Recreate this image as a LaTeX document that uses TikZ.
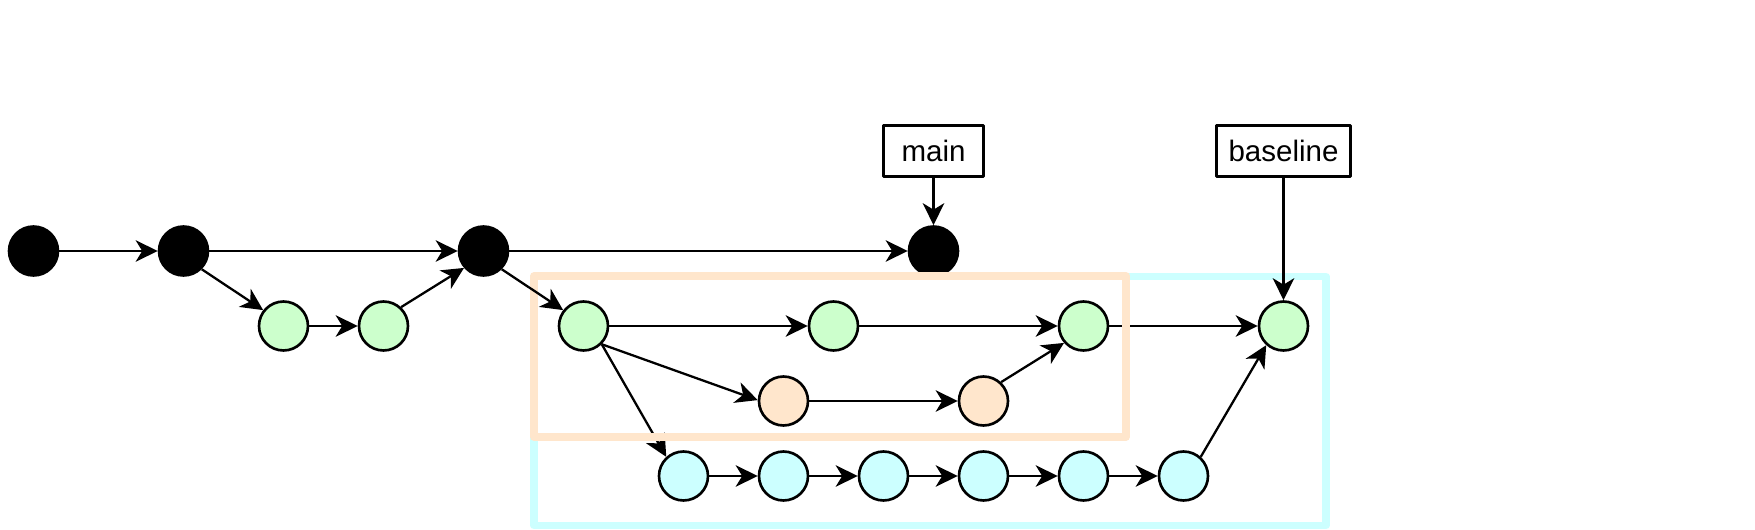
\documentclass[tikz,border=0pt]{standalone}
\usepackage{fontspec}
\setmainfont{Liberation Sans}
\usepackage{xcolor}
\usetikzlibrary{arrows.meta}
\definecolor{featgreen}{HTML}{CCFFCC}
\definecolor{featorange}{HTML}{FFE6CC}
\definecolor{featcyan}{HTML}{CCFFFF}
\tikzset{
  every picture/.style={line join=round, >={Stealth[length=0.44cm,width=0.43cm,inset=0.13cm]}},
  commit/.style={circle, draw, line width=1.5pt, minimum size=0.98cm, inner sep=0pt},
  maincommit/.style={commit, fill=black},
  greencommit/.style={commit, fill=featgreen},
  orangecommit/.style={commit, fill=featorange},
  cyancommit/.style={commit, fill=featcyan},
  branchref/.style={draw, line width=1.3pt, minimum height=1.02cm, inner sep=0.2cm, font=\fontsize{16.8}{20}\selectfont},
  edge/.style={->, line width=1.3pt},
  groupbox/.style={line width=0.15cm},
}

\begin{document}
\begin{tikzpicture}[x=0.02cm,y=-0.02cm]
\useasboundingbox (0,0) rectangle (1755,530);
% groups
\draw[groupbox,featcyan] (534,276.5) rectangle (1326,525.5);
% commits on main
\node[maincommit] (k1) at (33.5,251) {};
\node[maincommit] (k2) at (183.5,251) {};
\node[maincommit] (k3) at (483.5,251) {};
\node[maincommit] (k4) at (933.5,251) {};
% feature commits
\node[greencommit] (g1) at (283.5,326) {};
\node[greencommit] (g2) at (383.5,326) {};
\node[greencommit] (gA) at (583.5,326) {};
\node[greencommit] (gB) at (833.5,326) {};
\node[greencommit] (gC) at (1083.5,326) {};
\node[greencommit] (gD) at (1283.5,326) {};
\node[orangecommit] (o1) at (783.5,401) {};
\node[orangecommit] (o2) at (983.5,401) {};
\node[cyancommit] (c1) at (683.5,476) {};
\node[cyancommit] (c2) at (783.5,476) {};
\node[cyancommit] (c3) at (883.5,476) {};
\node[cyancommit] (c4) at (983.5,476) {};
\node[cyancommit] (c5) at (1083.5,476) {};
\node[cyancommit] (c6) at (1183.5,476) {};
% refs
\node[branchref, minimum width=2.0cm] (main) at (933.5,151) {main};
\node[branchref, minimum width=2.68cm] (baseline) at (1283.5,151) {baseline};
% history
\draw[edge] (k1) -- (k2);
\draw[edge] (k2) -- (k3);
\draw[edge] (k3) -- (k4);
\draw[edge] (k2.-45) -- (g1.142);
\draw[edge] (g1) -- (g2);
\draw[edge] (g2.47) -- (k3.-139);
\draw[edge] (gA) -- (gB);
\draw[edge] (gB) -- (gC);
\draw[edge] (gC) -- (gD);
\draw[edge] (gA.-45) -- (o1.178);
\draw[edge] (o1) -- (o2);
\draw[edge] (o2.47) -- (gC.-139);
\draw[edge] (gA.-45) -- (c1.132);
\draw[edge] (c1) -- (c2);
\draw[edge] (c2) -- (c3);
\draw[edge] (c3) -- (c4);
\draw[edge] (c4) -- (c5);
\draw[edge] (c5) -- (c6);
\draw[edge] (c6.48) -- (gD.-132);
\draw[edge] (main) -- (k4);
\draw[groupbox,featorange] (534,276) rectangle (1126,437);
\draw[edge] (k3.-45) -- (gA.142);
\draw[edge] (baseline) -- (gD);
\end{tikzpicture}
\end{document}
